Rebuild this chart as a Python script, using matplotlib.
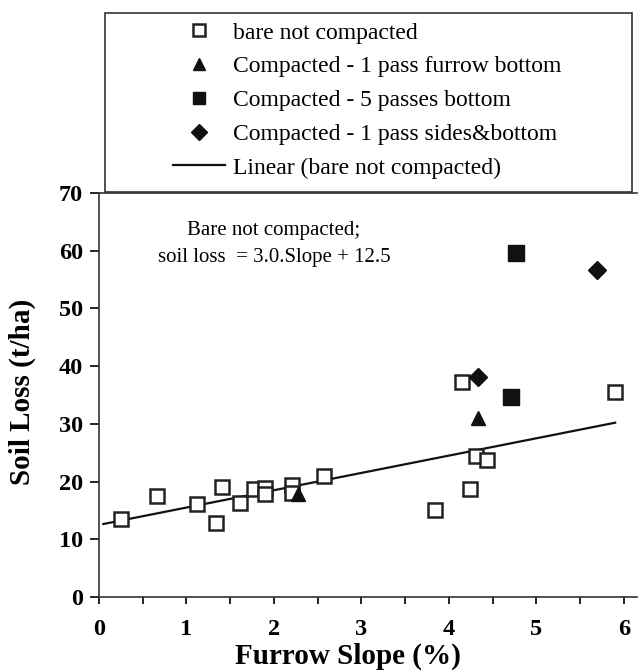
import numpy as np
import matplotlib
matplotlib.use("Agg")
import matplotlib.pyplot as plt
from matplotlib.patches import Rectangle
from matplotlib.ticker import MultipleLocator

plt.rcParams["font.family"] = ["Liberation Serif", "DejaVu Serif"]

# Data
bare_x = [0.25, 0.66, 1.12, 1.34, 1.41, 1.61, 1.77, 1.90, 1.90, 2.21, 2.21, 2.57,
          3.84, 4.15, 4.24, 4.31, 4.44, 5.90]
bare_y = [13.6, 17.5, 16.2, 12.9, 19.0, 16.3, 18.7, 18.8, 17.9, 19.4, 18.0, 21.0,
          15.1, 37.3, 18.7, 24.4, 23.7, 35.5]

pass1_x = [2.28, 4.33]
pass1_y = [17.9, 31.1]

pass5_x = [4.71, 4.77]
pass5_y = [34.6, 59.6]

sides_x = [4.33, 5.69]
sides_y = [38.2, 56.6]

# trend line for bare not compacted
slope = 3.0
intercept = 12.5
line_x = np.array([0.05, max(bare_x)])
line_y = slope * line_x + intercept

W, H = 638, 672
fig = plt.figure(figsize=(W / 100, H / 100), dpi=100)
ax = fig.add_axes([99 / W, 1 - 597 / H, 538 / W, 404 / H])

h1, = ax.plot(bare_x, bare_y, "s", ms=9.5, mfc="white", mec="#222222", mew=1.8,
              label="bare not compacted", zorder=3)
h2, = ax.plot(pass1_x, pass1_y, "^", ms=10, color="#111111",
              label="Compacted - 1 pass furrow bottom", zorder=4)
h3, = ax.plot(pass5_x, pass5_y, "s", ms=11, color="#111111",
              label="Compacted - 5 passes bottom", zorder=4)
h4, = ax.plot(sides_x, sides_y, "D", ms=9, color="#111111",
              label="Compacted - 1 pass sides&bottom", zorder=4)
h5, = ax.plot(line_x, line_y, "-", color="#111111", lw=1.6,
              label="Linear (bare not compacted)", zorder=2)

ax.set_xlim(0, 6.15)
ax.set_ylim(0, 70)
ax.xaxis.set_major_locator(MultipleLocator(1))
ax.xaxis.set_minor_locator(MultipleLocator(0.5))
ax.yaxis.set_major_locator(MultipleLocator(10))
ax.tick_params(axis="x", which="both", direction="out", length=5, width=1.2, pad=11)
ax.tick_params(axis="y", direction="out", length=6.5, width=1.2, pad=5)
ax.tick_params(labelsize=17.5)
for lab in ax.get_xticklabels() + ax.get_yticklabels():
    lab.set_fontweight("bold")
for sp in ax.spines.values():
    sp.set_linewidth(1.2)
    sp.set_color("#333333")
ax.spines["right"].set_visible(False)

ax.set_xlabel("Furrow Slope (%)", fontsize=21, fontweight="bold")
ax.set_ylabel("Soil Loss (t/ha)", fontsize=21, fontweight="bold")
ax.xaxis.set_label_coords(0.463, -0.114)
ax.yaxis.set_label_coords(-0.117, 0.507)

ax.text(2.0, 63.5, "Bare not compacted;", ha="center", va="center", fontsize=15)
ax.text(2.0, 58.9, "soil loss  = 3.0.Slope + 12.5", ha="center", va="center", fontsize=15)

# legend frame drawn separately (entries are indented inside the box)
fig.patches.append(Rectangle((105 / W, 1 - 192 / H), 527 / W, 179 / H,
                             transform=fig.transFigure, fill=False,
                             edgecolor="#333333", lw=1.2))
leg = fig.legend(handles=[h1, h2, h3, h4, h5], loc="upper left",
                 bbox_to_anchor=(173 / W, 1 - 22 / H), fontsize=17,
                 frameon=False, borderpad=0, borderaxespad=0,
                 handlelength=2.2, handletextpad=0.35, labelspacing=0.52,
                 markerscale=0.85)

fig.savefig("out.png", dpi=100)
